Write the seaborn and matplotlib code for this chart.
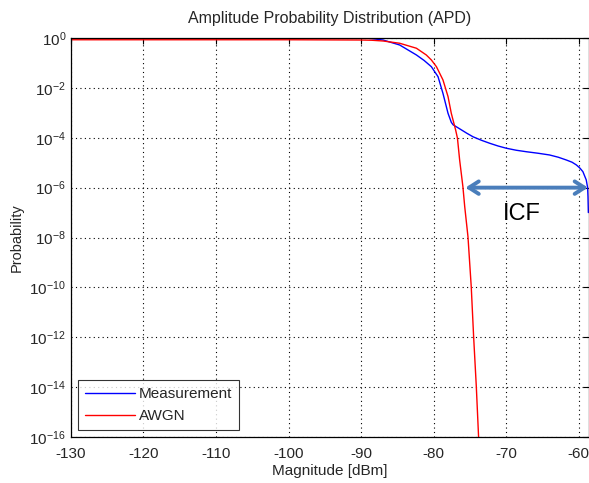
import numpy as np
import pandas as pd
import matplotlib
matplotlib.use("Agg")
import matplotlib.pyplot as plt
import seaborn as sns

# Measurement curve (magnitude dBm, log10 probability)
meas_x = [-130, -100, -89.25, -86.96, -84.67, -82.36, -81.3, -80.3, -79.38, -78.7, -78.0,
          -77.55, -77.3, -76.4, -75.4, -74.56, -73.4, -72.26, -71.1, -69.96, -68.6, -67.2,
          -65.6, -64.0, -62.8, -61.7, -60.9, -60.3, -59.8, -59.4, -58.94, -58.75, -58.7, -58.65]
meas_logp = [0, 0, 0, -0.08, -0.28, -0.68, -0.9, -1.15, -1.55, -2.22, -3.02,
             -3.38, -3.48, -3.64, -3.82, -3.96, -4.1, -4.22, -4.33, -4.42, -4.5, -4.56,
             -4.62, -4.69, -4.78, -4.89, -4.98, -5.09, -5.22, -5.36, -5.69, -6.0, -6.36, -7.0]

# AWGN curve
awgn_x = [-130, -100, -90, -88.5, -86.96, -84.67, -82.36, -81.0, -80.3, -79.6, -78.7,
          -78.0, -77.55, -77.3, -76.95, -76.7, -76.4, -75.95, -75.7, -75.25, -74.8,
          -74.47, -74.1, -73.78]
awgn_logp = [-0.07, -0.07, -0.08, -0.09, -0.12, -0.21, -0.41, -0.68, -0.88, -1.15, -1.68,
             -2.35, -3.02, -3.3, -3.69, -4.02, -4.89, -5.96, -6.76, -7.97, -9.97,
             -11.98, -13.98, -16.04]

series_names = ["Measurement", "AWGN"]
series_colors = ["#0000ff", "#ff0000"]

xticks = [-130, -120, -110, -100, -90, -80, -70, -60]
yexp = [0, -2, -4, -6, -8, -10, -12, -14, -16]

icf_start, icf_end, icf_level = -75.6, -58.7, 1e-6

df = pd.concat([
    pd.DataFrame({"x": meas_x, "p": 10.0 ** np.array(meas_logp), "series": "Measurement"}),
    pd.DataFrame({"x": awgn_x, "p": 10.0 ** np.array(awgn_logp), "series": "AWGN"}),
])

sns.set_style("white")
plt.rcParams["font.family"] = ["Liberation Sans", "DejaVu Sans"]
plt.rcParams["mathtext.fontset"] = "custom"
plt.rcParams["mathtext.rm"] = "Liberation Sans"
plt.rcParams["mathtext.it"] = "Liberation Sans:italic"

fig = plt.figure(figsize=(5.89, 4.83), dpi=100)
ax = fig.add_axes([0.1205, 0.0952, 0.879, 0.8261])

sns.lineplot(data=df, x="x", y="p", hue="series", hue_order=series_names,
             palette=series_colors, linewidth=1.0, ax=ax, sort=False, estimator=None)

ax.set_yscale("log")
ax.set_xlim(-130, -58.6)
ax.set_ylim(1e-16, 1)
ax.set_xticks(xticks)
ax.set_xticklabels([str(t) for t in xticks])
ax.set_yticks([10.0 ** e for e in yexp])
ax.set_yticklabels([r"$10^{%d}$" % e for e in yexp])
ax.yaxis.set_minor_locator(matplotlib.ticker.NullLocator())
ax.tick_params(direction="in", top=True, right=True, length=4, labelsize=11, color="black")
ax.tick_params(axis="x", pad=7)
ax.grid(True, linestyle=(0, (1, 3)), color="black", linewidth=0.8)
for s in ax.spines.values():
    s.set_color("black")
    s.set_linewidth(0.9)

ax.set_title("Amplitude Probability Distribution (APD)", fontsize=11.5, pad=11)
ax.set_xlabel("Magnitude [dBm]", fontsize=11, labelpad=2)
ax.set_ylabel("Probability", fontsize=10.5)
ax.yaxis.set_label_coords(-0.092, 0.5)

ax.annotate("", xy=(icf_start, icf_level), xytext=(icf_end, icf_level),
            arrowprops=dict(arrowstyle="<->,head_length=0.7,head_width=0.45",
                            color="#4a7ebb", lw=2.8, shrinkA=0, shrinkB=0))
ax.text(-67.8, 10 ** -7.05, "ICF", fontsize=17, ha="center", va="center", color="black")

leg = ax.legend(loc="lower left", frameon=True, fancybox=False, fontsize=11,
                borderaxespad=0.45, handlelength=3.3, handletextpad=0.25, borderpad=0.45,
                labelspacing=0.55)
leg.get_frame().set_edgecolor("black")
leg.get_frame().set_linewidth(0.8)

fig.savefig("out.png", dpi=100)
